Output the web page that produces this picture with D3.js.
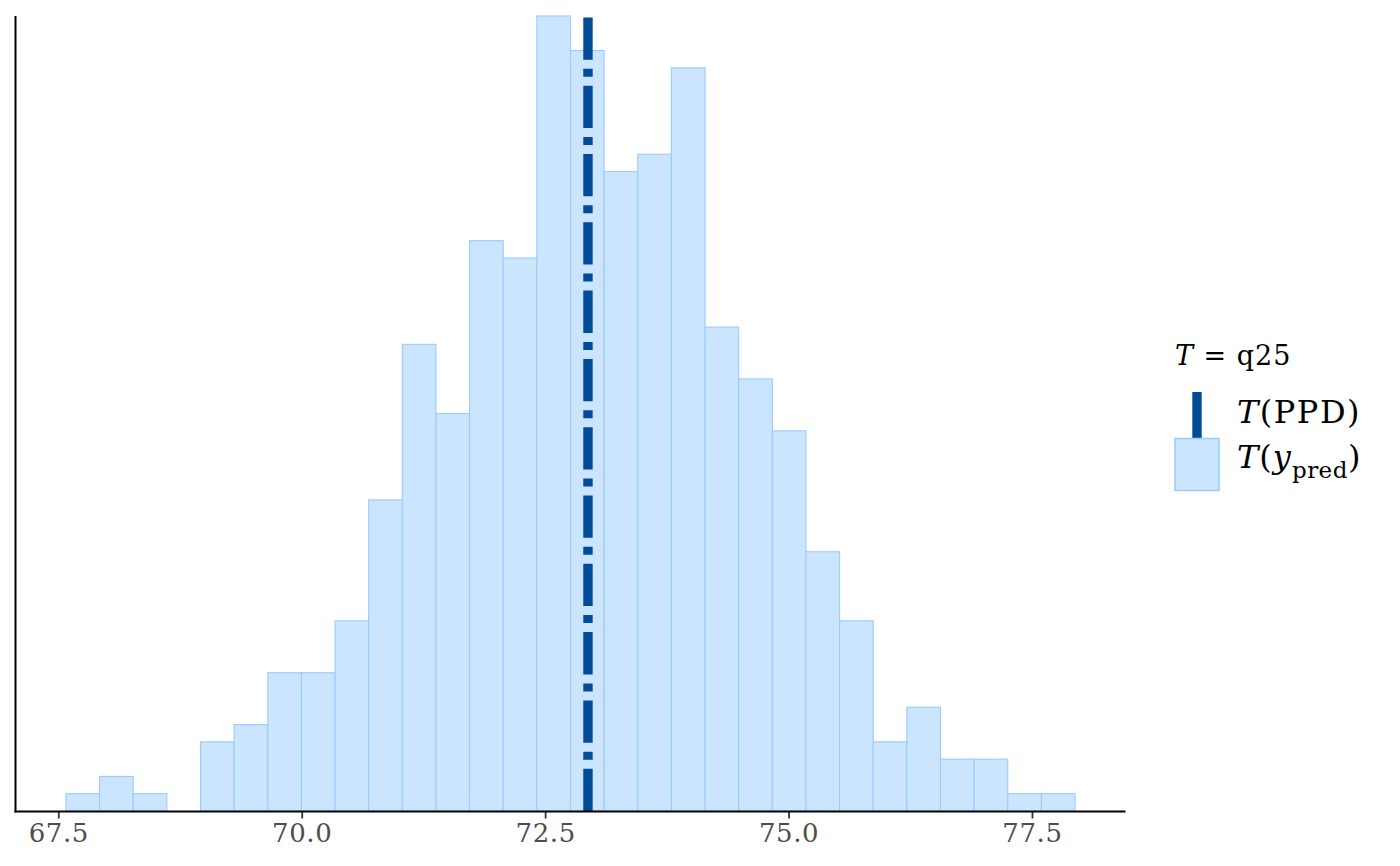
<!DOCTYPE html>
<html>
<head>
<meta charset="utf-8">
<script src="https://cdn.jsdelivr.net/npm/d3@7"></script>
<style>
  html, body { margin: 0; padding: 0; background: #fff; }
  svg { display: block; }
  text { font-family: "DejaVu Serif", serif; }
</style>
</head>
<body>
<svg id="chart" width="1400" height="866"></svg>
<script>
// ---- data ----
const binStart = 67.5786;   // left edge of first bin
const binWidth = 0.34546;   // bin width
const counts = [1, 2, 1, 0, 4, 5, 8, 8, 11, 18, 27, 23, 33, 32, 46, 44, 37, 38, 43, 28, 25, 22, 15, 11, 4, 6, 3, 3, 1, 1];
const statValue = 72.94;     // T(PPD)
const xTicks = [67.5, 70.0, 72.5, 75.0, 77.5];
const legendTitle = "q25";

// ---- layout ----
const svg = d3.select("#chart");
const panel = { left: 15.5, right: 1125.5, top: 16, bottom: 811 };
const fillCol = "#cce5ff", edgeCol = "#99cbff", lineCol = "#004c99";

const bins = counts.map((c, i) => ({ x0: binStart + i * binWidth, x1: binStart + (i + 1) * binWidth, n: c }));
const lo = bins[0].x0, hi = bins[bins.length - 1].x1, r = hi - lo;
const x = d3.scaleLinear().domain([lo - 0.05 * r, hi + 0.05 * r]).range([panel.left, panel.right]);
const y = d3.scaleLinear().domain([0, d3.max(counts)]).range([panel.bottom, panel.top]);

// bars
svg.append("g").selectAll("rect").data(bins.filter(b => b.n > 0)).join("rect")
  .attr("x", d => x(d.x0))
  .attr("y", d => y(d.n))
  .attr("width", d => x(d.x1) - x(d.x0))
  .attr("height", d => y(0) - y(d.n))
  .attr("fill", fillCol)
  .attr("stroke", edgeCol)
  .attr("stroke-width", 1.1);

// statistic line
svg.append("line")
  .attr("x1", x(statValue)).attr("x2", x(statValue))
  .attr("y1", y(0)).attr("y2", panel.top)
  .attr("stroke", lineCol)
  .attr("stroke-width", 9.4)
  .attr("stroke-dasharray", "42.3 9 8 9");

// axes
const xAxis = d3.axisBottom(x).tickValues(xTicks).tickFormat(d3.format(".1f")).tickSize(7).tickPadding(6);
const gx = svg.append("g").attr("transform", `translate(0,${panel.bottom + 0.5})`).call(xAxis);
gx.select(".domain").remove();
gx.selectAll(".tick line").attr("stroke", "#333").attr("stroke-width", 1.8);
gx.selectAll(".tick text").attr("fill", "#4d4d4d").style("font-size", "26px")
  .style("font-family", "DejaVu Serif").style("letter-spacing", "0.6px").attr("dy", "0.68em");

svg.append("line")
  .attr("x1", panel.left - 1).attr("x2", panel.right)
  .attr("y1", panel.bottom + 0.5).attr("y2", panel.bottom + 0.5)
  .attr("stroke", "#000").attr("stroke-width", 2);
svg.append("line")
  .attr("x1", panel.left).attr("x2", panel.left)
  .attr("y1", panel.top).attr("y2", panel.bottom + 1.5)
  .attr("stroke", "#000").attr("stroke-width", 2);

// legend
const lg = svg.append("g");
const title = lg.append("text").attr("x", 1175).attr("y", 365).style("font-size", "27px")
  .style("letter-spacing", "1px").attr("fill", "#000");
title.append("tspan").style("font-style", "italic").text("T");
title.append("tspan").text(" = " + legendTitle);

lg.append("line").attr("x1", 1197).attr("x2", 1197).attr("y1", 392).attr("y2", 438)
  .attr("stroke", lineCol).attr("stroke-width", 9.4);
lg.append("rect").attr("x", 1175).attr("y", 438.5).attr("width", 44).attr("height", 52)
  .attr("fill", fillCol).attr("stroke", edgeCol).attr("stroke-width", 1.5);

const l1 = lg.append("text").attr("x", 1237).attr("y", 423).style("font-size", "32px")
  .style("letter-spacing", "1.5px").attr("fill", "#000");
l1.append("tspan").style("font-style", "italic").text("T");
l1.append("tspan").text("(PPD)");

const l2 = lg.append("text").attr("x", 1237).attr("y", 468).style("font-size", "32px")
  .style("letter-spacing", "1px").attr("fill", "#000");
l2.append("tspan").style("font-style", "italic").text("T");
l2.append("tspan").text("(");
l2.append("tspan").style("font-style", "italic").text("y");
l2.append("tspan").attr("dy", 10).style("font-size", "23px").style("letter-spacing", "0.5px").text("pred");
l2.append("tspan").attr("dy", -10).text(")");
</script>
</body>
</html>
